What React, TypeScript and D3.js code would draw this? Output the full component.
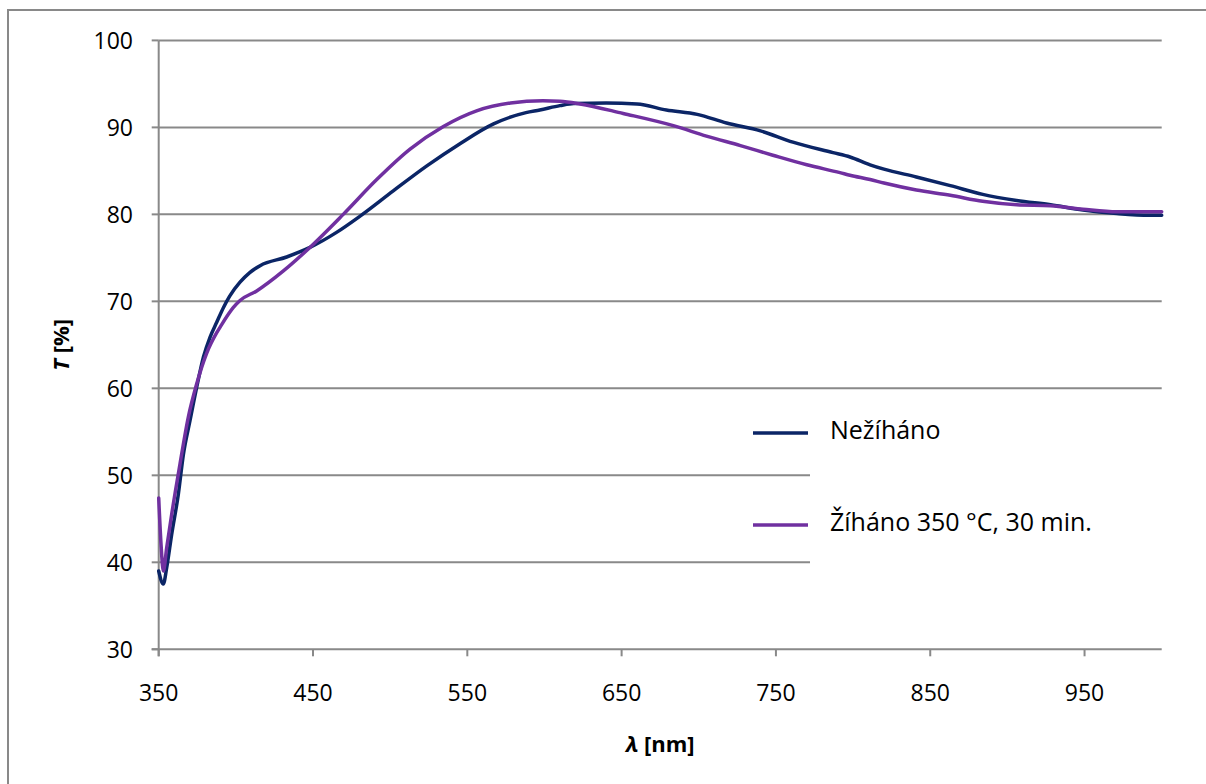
import * as d3 from 'd3';

// Nežíháno (as deposited)
const lambdaA = [350, 353, 355.2, 358.4, 362.7, 366, 370.3, 374.6, 379, 383.3, 387.6, 392, 396, 402.7, 409, 415.7, 432.9, 448, 465, 480.5, 502, 524, 545, 567, 588, 597, 610, 619, 640, 660, 679, 699, 718, 740, 761, 787, 798, 811, 820, 841, 863, 884, 906, 928, 949, 971, 992, 1000];
const tA = [39.0, 37.5, 39.4, 43.2, 47.8, 52.4, 56.3, 60.1, 63.6, 65.9, 67.6, 69.3, 70.6, 72.2, 73.3, 74.1, 75.1, 76.2, 77.9, 79.8, 82.7, 85.6, 88.1, 90.4, 91.7, 92.0, 92.5, 92.75, 92.8, 92.7, 92.0, 91.5, 90.5, 89.6, 88.3, 87.1, 86.6, 85.7, 85.2, 84.3, 83.3, 82.3, 81.6, 81.1, 80.5, 80.1, 79.9, 79.9];

// Žíháno 350 °C, 30 min.
const lambdaB = [350, 351.5, 353, 355.2, 358.4, 363.8, 369.2, 374.6, 381, 387.6, 390, 398.4, 402.7, 413.5, 430.8, 448, 469.6, 491.3, 512.9, 534.5, 556, 578, 599, 610, 623, 651, 683.5, 705, 727, 748, 770, 791.5, 798, 811, 820, 841, 863, 884, 906, 928, 949, 971, 992, 1000];
const tB = [47.4, 42.1, 39.0, 41.7, 45.5, 51.3, 56.7, 60.5, 64.0, 66.4, 67.1, 69.3, 70.1, 71.2, 73.5, 76.2, 80.0, 84.0, 87.5, 90.1, 91.9, 92.8, 93.05, 93.0, 92.7, 91.6, 90.2, 89.0, 87.9, 86.8, 85.7, 84.8, 84.5, 84.0, 83.6, 82.8, 82.2, 81.5, 81.1, 81.0, 80.6, 80.3, 80.3, 80.3];

const seriesNames = ['Nežíháno', 'Žíháno 350 °C, 30 min.'];
const seriesColors = ['#0b2566', '#7030a0'];
const xTicks = [350, 450, 550, 650, 750, 850, 950];
const yTicks = [30, 40, 50, 60, 70, 80, 90, 100];

const W = 1206;
const H = 784;
const plot = { left: 158.7, right: 1161.7, top: 40.4, bottom: 649.3 };
const font = '"Open Sans", "Noto Sans", sans-serif';
const grey = '#898989';

export default function App() {
  const x = d3.scaleLinear().domain([350, 1000]).range([plot.left, plot.right]);
  const y = d3.scaleLinear().domain([30, 100]).range([plot.bottom, plot.top]);

  const line = d3.line<[number, number]>()
    .curve(d3.curveMonotoneX)
    .x(d => x(d[0]))
    .y(d => y(d[1]));

  const series = [
    lambdaA.map((l, i) => [l, tA[i]] as [number, number]),
    lambdaB.map((l, i) => [l, tB[i]] as [number, number]),
  ];

  const legendY = [433, 525];

  return (
    <svg width={W} height={H} style={{ position: 'absolute', left: 0, top: 0, background: '#fff' }}>
      <rect x={8} y={10} width={W + 20} height={H + 20} fill="#fff" stroke={grey} strokeWidth={2} />

      {yTicks.map(t => (
        <g key={'y' + t}>
          {t > 30 && <line x1={plot.left} x2={plot.right} y1={y(t)} y2={y(t)} stroke={grey} strokeWidth={2} />}
          <line x1={plot.left - 7} x2={plot.left} y1={y(t)} y2={y(t)} stroke={grey} strokeWidth={2} />
          <text x={133} y={y(t)} textAnchor="end" dominantBaseline="central" fontFamily={font} fontSize={23} fill="#000">{t}</text>
        </g>
      ))}

      {/* legend backdrop hides the grid behind it */}
      <rect x={810} y={400} width={plot.right - 810 + 1} height={200} fill="#fff" />

      <line x1={plot.left} x2={plot.left} y1={plot.top} y2={plot.bottom + 7} stroke={grey} strokeWidth={2} />
      <line x1={plot.left - 7} x2={plot.right} y1={plot.bottom} y2={plot.bottom} stroke={grey} strokeWidth={2} />
      {xTicks.map(t => (
        <g key={'x' + t}>
          <line x1={x(t)} x2={x(t)} y1={plot.bottom} y2={plot.bottom + 7} stroke={grey} strokeWidth={2} />
          <text x={x(t)} y={692} textAnchor="middle" dominantBaseline="central" fontFamily={font} fontSize={23} fill="#000">{t}</text>
        </g>
      ))}

      {series.map((s, i) => (
        <path key={i} d={line(s) ?? ''} fill="none" stroke={seriesColors[i]} strokeWidth={3.5} strokeLinejoin="round" strokeLinecap="round" />
      ))}

      {seriesNames.map((n, i) => (
        <g key={n}>
          <line x1={753} x2={808} y1={legendY[i]} y2={legendY[i]} stroke={seriesColors[i]} strokeWidth={3.5} />
          <text x={830} y={legendY[i] - 4} dominantBaseline="central" fontFamily={font} fontSize={25} fill="#000">{n}</text>
        </g>
      ))}

      <text x={(plot.left + plot.right) / 2} y={743} textAnchor="middle" dominantBaseline="central" fontFamily={font} fontSize={22} fontWeight="bold" fill="#000">
        <tspan fontStyle="italic">λ</tspan> [nm]
      </text>
      <text transform={`translate(60,${(plot.top + plot.bottom) / 2}) rotate(-90)`} textAnchor="middle" dominantBaseline="central" fontFamily={font} fontSize={22} fontWeight="bold" fill="#000">
        <tspan fontStyle="italic">T</tspan> [%]
      </text>
    </svg>
  );
}
